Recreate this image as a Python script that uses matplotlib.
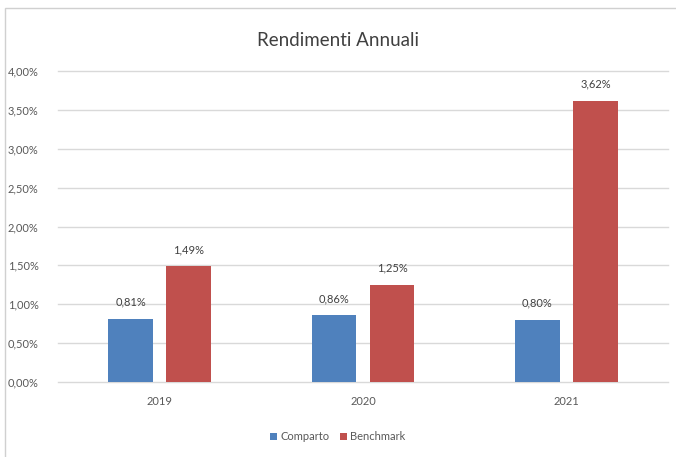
import numpy as np
import matplotlib.pyplot as plt
from matplotlib.patches import Rectangle
from matplotlib.ticker import FuncFormatter

plt.rcParams['font.family'] = ['Lato', 'DejaVu Sans']

anni = ['2019', '2020', '2021']
comparto = [0.81, 0.86, 0.80]
benchmark = [1.49, 1.25, 3.62]
serie = ['Comparto', 'Benchmark']

fig = plt.figure(figsize=(6.76, 4.57), dpi=100)
fig.patches.append(Rectangle((5/676, -0.01), 1.0, 1 - 8/457 + 0.01, transform=fig.transFigure,
                             fill=False, edgecolor='#D0D0D0', linewidth=1.0))
ax = fig.add_axes([58/676, 1 - 382/457, 610/676, 311/457])

x = np.arange(len(anni))
w = 0.22
off = 0.143
b1 = ax.bar(x - off, comparto, w, color='#4F81BD', label=serie[0], zorder=3)
b2 = ax.bar(x + off, benchmark, w, color='#C0504D', label=serie[1], zorder=3)

for bars, vals in ((b1, comparto), (b2, benchmark)):
    for b, v in zip(bars, vals):
        ax.annotate(f'{v:.2f}%'.replace('.', ','), (b.get_x() + b.get_width() / 2, v),
                    xytext=(0, 8), textcoords='offset points', ha='center', va='bottom',
                    fontsize=8, color='#404040')

ax.set_xlim(-0.5, 2.5)
ax.set_ylim(0, 4.0)
ax.set_yticks(np.arange(0, 4.01, 0.5))
ax.yaxis.set_major_formatter(FuncFormatter(lambda v, p: f'{v:.2f}%'.replace('.', ',')))
ax.set_xticks(x)
ax.set_xticklabels(anni)
ax.tick_params(length=0, labelsize=8, colors='#595959')
ax.tick_params(axis='x', pad=10)
ax.tick_params(axis='y', pad=14)
for s in ax.spines.values():
    s.set_visible(False)
ax.grid(axis='y', color='#D9D9D9', linewidth=1.0, zorder=0)
for gl in ax.get_ygridlines():
    gl.set_clip_on(False)

fig.text(0.5, 1 - 40/457, 'Rendimenti Annuali', ha='center', va='center', fontsize=13.5, color='#404040')
fig.legend(loc='center', bbox_to_anchor=(0.5, 1 - 437/457), ncol=2, frameon=False,
           fontsize=8, handlelength=0.6, handleheight=0.6, handletextpad=0.3, columnspacing=1.0,
           labelcolor='#595959')

fig.savefig('out.png', dpi=100)
